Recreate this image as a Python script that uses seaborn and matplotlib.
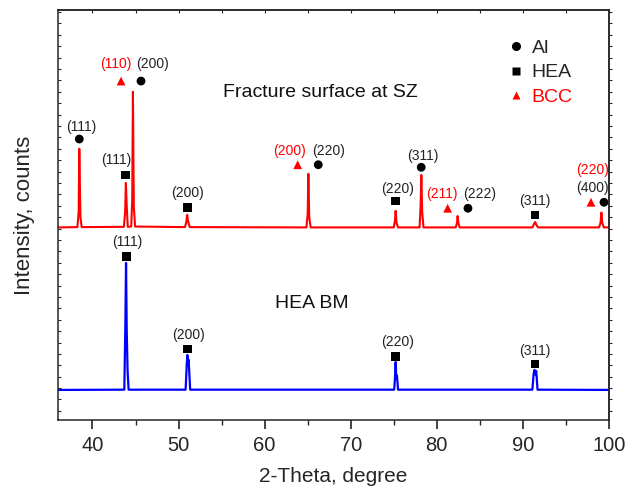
import numpy as np
import pandas as pd
import matplotlib
matplotlib.use("Agg")
import matplotlib.pyplot as plt
import seaborn as sns
from matplotlib.lines import Line2D

sns.set_style("ticks")
plt.rcParams['font.family'] = ['Liberation Sans', 'DejaVu Sans']

# ---------------------------- XRD traces ----------------------------
# fracture surface at SZ (red), counts
sz_theta = [36.0, 38.25, 38.4, 38.47, 38.6, 38.75,
            43.65, 43.8, 43.88, 43.98, 44.1, 44.5, 44.62, 44.7, 44.8, 44.95,
            50.75, 50.92, 51.0, 51.1, 51.3,
            64.85, 65.0, 65.08, 65.18, 65.35,
            75.0, 75.15, 75.22, 75.32, 75.5,
            78.0, 78.12, 78.2, 78.3, 78.45,
            82.2, 82.35, 82.42, 82.5, 82.65,
            91.1, 91.3, 91.42, 91.55, 91.75,
            98.85, 99.02, 99.12, 99.22, 99.4, 100.0]
sz_counts = [3220, 3225, 3500, 4600, 3400, 3225,
             3230, 3500, 4000, 3600, 3230, 3235, 3700, 5600, 3600, 3235,
             3225, 3330, 3440, 3330, 3225,
             3220, 3450, 4160, 3400, 3220,
             3220, 3350, 3510, 3300, 3220,
             3220, 3600, 4140, 3500, 3220,
             3220, 3300, 3420, 3300, 3220,
             3220, 3280, 3315, 3270, 3220,
             3220, 3300, 3480, 3300, 3220, 3220]

# HEA base metal (blue)
bm_theta = [36.0, 43.7, 43.82, 43.9, 43.98, 44.08, 44.2,
            50.82, 50.95, 51.02, 51.1, 51.17, 51.35,
            75.05, 75.15, 75.22, 75.3, 75.37, 75.5,
            91.1, 91.25, 91.35, 91.45, 91.55, 91.7, 100.0]
bm_counts = [368, 372, 1500, 2596, 1400, 700, 372,
             372, 800, 982, 860, 900, 372,
             372, 600, 859, 560, 620, 372,
             372, 650, 719, 640, 700, 372, 368]

# ---------------------------- peak markers ----------------------------
al_theta = [38.47, 45.64, 66.23, 78.19, 83.62, 99.42]
al_y = [4771, 5788, 4320, 4275, 3556, 3661]
al_hkl = ["(111)", "(200)", "(220)", "(311)", "(222)", "(400)"]
al_lx = [38.64, 47.03, 67.39, 78.39, 84.93, 98.06]
al_ly = [4987, 6086, 4561, 4473, 3802, 3906]

hea_theta = [43.86, 51.06, 75.22, 91.40, 43.98, 51.02, 75.22, 91.40]
hea_y = [4139, 3566, 3683, 3438, 2706, 1087, 952, 819]
hea_hkl = ["(111)", "(200)", "(220)", "(311)", "(111)", "(200)", "(220)", "(311)"]
hea_lx = [42.74, 51.06, 75.40, 91.40, 44.09, 51.13, 75.40, 91.40]
hea_ly = [4403, 3819, 3894, 3684, 2959, 1333, 1210, 1058]

bcc_theta = [43.32, 63.84, 81.26, 97.91]
bcc_y = [5788, 4320, 3556, 3661]
bcc_hkl = ["(110)", "(200)", "(211)", "(220)"]
bcc_lx = [42.70, 62.94, 80.63, 98.06]
bcc_ly = [6086, 4561, 3802, 4227]

fig = plt.figure(figsize=(6.28, 4.86), dpi=100)
ax = fig.add_axes([0.0924, 0.1358, 0.8773, 0.8436])

sz = pd.DataFrame({"theta": sz_theta, "counts": sz_counts})
bm = pd.DataFrame({"theta": bm_theta, "counts": bm_counts})
sns.lineplot(data=sz, x="theta", y="counts", color="#ff0000", lw=1.5, sort=False, ax=ax)
sns.lineplot(data=bm, x="theta", y="counts", color="#0000ff", lw=1.6, sort=False, ax=ax)

sns.scatterplot(x=al_theta, y=al_y, marker="o", s=40, color="black", edgecolor="none", ax=ax)
sns.scatterplot(x=hea_theta, y=hea_y, marker="s", s=38, color="black", edgecolor="none", ax=ax)
sns.scatterplot(x=bcc_theta, y=bcc_y, marker="^", s=40, color="#ff0000", edgecolor="none", ax=ax)

for lx, ly, t in zip(al_lx, al_ly, al_hkl):
    ax.text(lx, ly, t, ha="center", va="center", fontsize=10, color="#222222")
for lx, ly, t in zip(hea_lx, hea_ly, hea_hkl):
    ax.text(lx, ly, t, ha="center", va="center", fontsize=10, color="#222222")
for lx, ly, t in zip(bcc_lx, bcc_ly, bcc_hkl):
    ax.text(lx, ly, t, ha="center", va="center", fontsize=10, color="#ff0000")

ax.text(55.2, 5590, "Fracture surface at SZ", ha="left", va="center", fontsize=14, color="#111111")
ax.text(61.2, 1877, "HEA BM", ha="left", va="center", fontsize=14, color="#111111")

handles = [Line2D([], [], ls="none", marker="o", ms=6.5, color="black", mec="none"),
           Line2D([], [], ls="none", marker="s", ms=5.5, color="black", mec="none"),
           Line2D([], [], ls="none", marker="^", ms=6, color="#ff0000", mec="none")]
leg = ax.legend(handles, ["Al", "HEA", "BCC"], loc="upper left", bbox_to_anchor=(0.803, 0.948),
                frameon=False, fontsize=14, handlelength=0.8, handletextpad=0.4,
                labelspacing=0.36, borderaxespad=0)
leg.get_texts()[2].set_color("#ff0000")

ax.set_xlim(36, 100)
ax.set_ylim(-160, 7035)
ax.set_xticks(np.arange(40, 101, 10))
ax.set_xticks(np.arange(45, 100, 10), minor=True)
ax.set_yticks(np.arange(0, 7001, 200))
ax.set_yticklabels([])
ax.tick_params(axis="x", which="major", direction="out", length=6.3, width=1.2, labelsize=14.5, pad=5)
ax.tick_params(axis="x", which="minor", direction="out", length=3.3, width=1.0)
ax.tick_params(axis="y", which="both", direction="in", length=2.5, width=0.8)

top = ax.secondary_xaxis("top")
top.set_xticks(np.arange(40, 101, 5))
top.tick_params(direction="in", length=2.5, width=0.8, labeltop=False)
right = ax.secondary_yaxis("right")
right.set_yticks(np.arange(0, 7001, 200))
right.tick_params(direction="out", length=2.5, width=0.8, labelright=False)
for s in [top.spines["top"], right.spines["right"]] + list(ax.spines.values()):
    s.set_linewidth(1.1)

ax.set_xlabel("2-Theta, degree", fontsize=15, labelpad=9)
ax.set_ylabel("Intensity, counts", fontsize=16, labelpad=13)

fig.savefig("out.png", dpi=100)
